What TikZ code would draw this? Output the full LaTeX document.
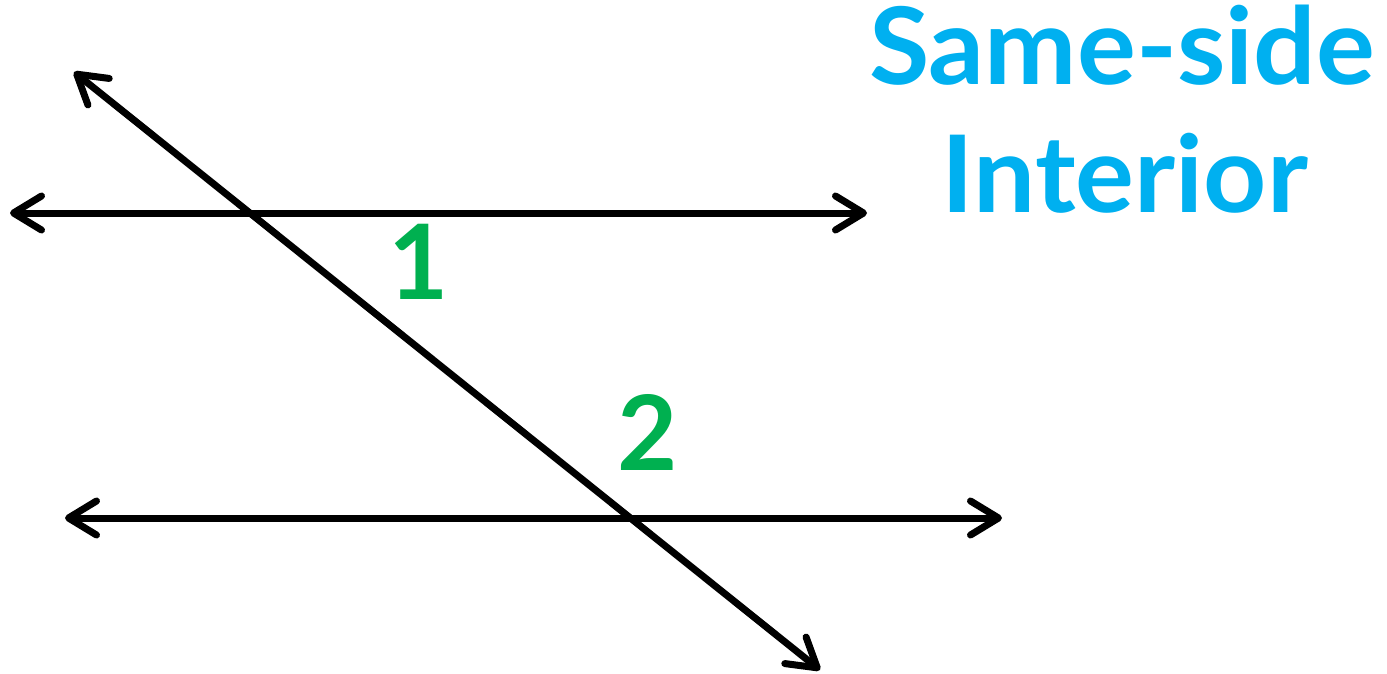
\documentclass[tikz,border=0pt]{standalone}
\usepackage{fontspec}
\setmainfont{Lato}
\usetikzlibrary{arrows.meta}
\definecolor{titleblue}{RGB}{0,176,240}
\definecolor{anglegreen}{RGB}{0,176,80}
\tikzset{
  barb/.tip={Straight Barb[length=28pt,width=34pt,line width=7pt,round]},
  ray/.style={line width=7pt, line cap=round, barb-barb},
  title/.style={text=titleblue, font=\fontsize{107}{107}\selectfont\bfseries, inner sep=0pt, anchor=base, xscale=1.03},
  anglelabel/.style={text=anglegreen, font=\fontsize{104}{104}\selectfont\bfseries, inner sep=0pt, anchor=base}
}
\begin{document}
\begin{tikzpicture}[x=1pt,y=-1pt]
\useasboundingbox (0,0) rectangle (1387,673);
\coordinate (t1) at (10,213);
\coordinate (t2) at (867,213);
\coordinate (b1) at (65,518);
\coordinate (b2) at (1002,518);
\coordinate (x1) at (74,72);
\coordinate (x2) at (820,670);
\draw[ray] (t1) -- (t2);
\draw[ray] (b1) -- (b2);
\draw[ray] (x1) -- (x2);
\node[anglelabel] (one) at (419,299) {1};
\node[anglelabel] (two) at (648,470) {2};
\node[title] (same) at (1122,84) {Same-side};
\node[title] (interior) at (1125,212) {Interior};
\end{tikzpicture}
\end{document}
